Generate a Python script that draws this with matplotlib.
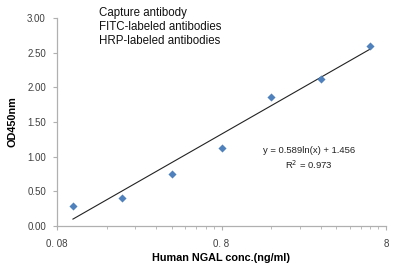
"""Standard curve: OD450 vs human NGAL concentration (log fit)."""

import matplotlib

matplotlib.use("Agg")

import matplotlib.pyplot as plt
import numpy as np
from matplotlib.ticker import FixedLocator, NullFormatter

# data
conc = [0.1, 0.2, 0.4, 0.8, 1.6, 3.2, 6.4]
od450 = [0.29, 0.41, 0.755, 1.12, 1.866, 2.117, 2.60]

# logarithmic trendline as printed on the chart
fit_slope = 0.589
fit_intercept = 1.456
fit_r2 = 0.973

x_ticks = [0.08, 0.8, 8]
x_tick_labels = ["0. 08", "0. 8", "8"]
y_ticks = [0.0, 0.5, 1.0, 1.5, 2.0, 2.5, 3.0]
legend_lines = ["Capture antibody", "FITC-labeled antibodies", "HRP-labeled antibodies"]

plt.rcParams["font.family"] = ["Liberation Sans", "DejaVu Sans"]

fig = plt.figure(figsize=(4.0, 2.71), dpi=100)
ax = fig.add_axes([0.1425, 0.166, 0.8225, 0.768])

xs = np.geomspace(min(conc), max(conc), 50)
ax.plot(xs, fit_slope * np.log(xs) + fit_intercept, color="#222222", linewidth=0.8)
ax.scatter(conc, od450, marker="D", s=17, color="#4f81bd", zorder=3, linewidths=0)

ax.set_xscale("log")
ax.set_xlim(0.08, 8)
ax.set_ylim(0, 3)
ax.xaxis.set_major_locator(FixedLocator(x_ticks))
ax.set_xticklabels(x_tick_labels)
minor = [x_ticks[0] * k for k in range(2, 10)] + [x_ticks[1] * k for k in range(2, 10)]
ax.xaxis.set_minor_locator(FixedLocator(minor))
ax.xaxis.set_minor_formatter(NullFormatter())
ax.set_yticks(y_ticks)
ax.set_yticklabels([f"{v:.2f}" for v in y_ticks])

for side in ("top", "right"):
    ax.spines[side].set_visible(False)
for side in ("left", "bottom"):
    ax.spines[side].set_color("#b0b0b0")
    ax.spines[side].set_linewidth(0.9)
ax.tick_params(axis="both", which="major", length=3, color="#b0b0b0", labelsize=7, labelcolor="#404040")
ax.tick_params(axis="x", which="minor", length=2, color="#b0b0b0")
ax.tick_params(axis="x", which="major", pad=6)
ax.tick_params(axis="y", which="major", pad=5)

ax.set_xlabel("Human NGAL conc.(ng/ml)", fontsize=7.8, fontweight="bold", labelpad=3)
ax.set_ylabel("OD450nm", fontsize=7.8, fontweight="bold", labelpad=7)

for i, line in enumerate(legend_lines):
    fig.text(0.247, 0.951 - i * 0.052, line, fontsize=8.3, color="#111111", va="center")

ax.text(2.72, 0.977, f"y = {fit_slope}ln(x) + {fit_intercept}\nR$^2$ = {fit_r2}",
        fontsize=6.8, color="#222222", ha="center", va="center", linespacing=1.3,
        transform=ax.transData)

fig.savefig("out.png", dpi=100)
